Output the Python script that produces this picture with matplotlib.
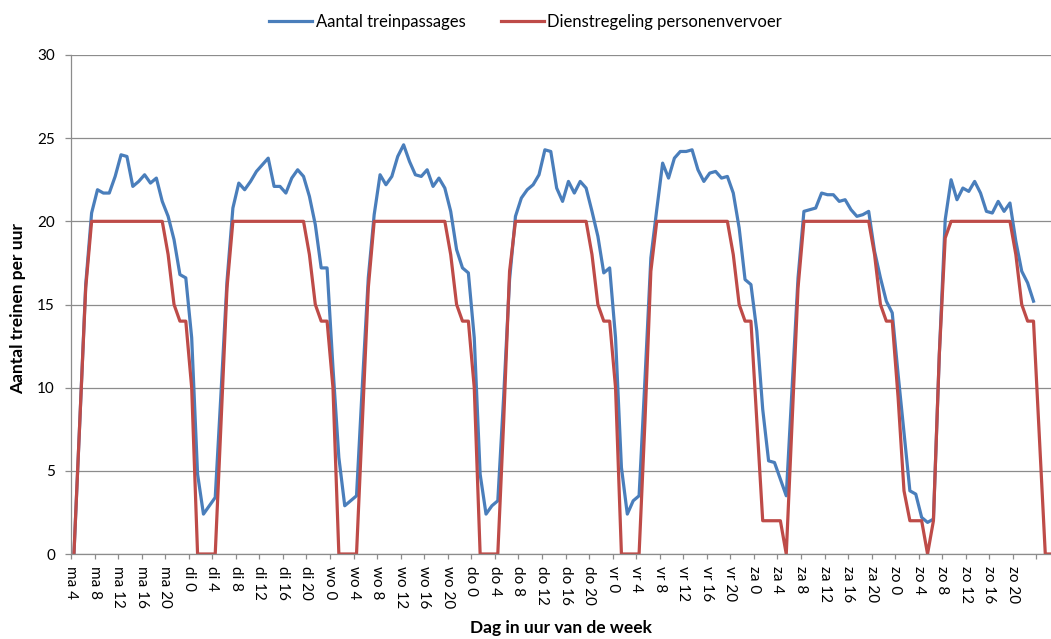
import numpy as np
import matplotlib
matplotlib.use("Agg")
import matplotlib.pyplot as plt

plt.rcParams['font.family'] = ['Lato', 'DejaVu Sans']

# uur van de week, vanaf maandag 4:00 (168 uur)
days = ['ma', 'di', 'wo', 'do', 'vr', 'za', 'zo']

# aantal treinpassages per uur (gemeten)
passages = [
    0, 8, 16.2, 20.5, 21.9, 21.7, 21.7, 22.7, 24.0, 23.9, 22.1, 22.4,
    22.8, 22.3, 22.6, 21.2, 20.3, 18.9, 16.8, 16.6, 13.0, 4.8, 2.4, 2.9,
    3.4, 9.8, 16.4, 20.8, 22.3, 21.9, 22.4, 23.0, 23.4, 23.8, 22.1, 22.1,
    21.7, 22.6, 23.1, 22.7, 21.5, 19.8, 17.2, 17.2, 11.2, 5.8, 2.9, 3.2,
    3.5, 10.2, 16.6, 20.4, 22.8, 22.2, 22.7, 23.9, 24.6, 23.6, 22.8, 22.7,
    23.1, 22.1, 22.6, 22.0, 20.6, 18.3, 17.2, 16.9, 13.0, 4.8, 2.4, 2.9,
    3.2, 9.5, 16.5, 20.3, 21.4, 21.9, 22.2, 22.8, 24.3, 24.2, 22.0, 21.2,
    22.4, 21.7, 22.4, 22.0, 20.6, 19.1, 16.9, 17.2, 13.0, 5.2, 2.4, 3.2,
    3.5, 10.5, 17.8, 20.7, 23.5, 22.6, 23.8, 24.2, 24.2, 24.3, 23.1, 22.4,
    22.9, 23.0, 22.6, 22.7, 21.7, 19.6, 16.5, 16.2, 13.4, 8.7, 5.6, 5.5,
    4.5, 3.5, 10.0, 16.6, 20.6, 20.7, 20.8, 21.7, 21.6, 21.6, 21.2, 21.3,
    20.7, 20.3, 20.4, 20.6, 18.2, 16.6, 15.2, 14.5, 10.8, 7.3, 3.8, 3.6,
    2.2, 1.9, 2.1, 12.0, 20.1, 22.5, 21.3, 22.0, 21.8, 22.4, 21.7, 20.6,
    20.5, 21.2, 20.6, 21.1, 18.8, 17.0, 16.3, 15.2,
]

# dienstregeling personenvervoer (treinen per uur)
dienstregeling = [
    0, 8, 16, 20, 20, 20, 20, 20, 20, 20, 20, 20,
    20, 20, 20, 20, 18, 15, 14, 14, 10, 0, 0, 0,
    0, 8, 16, 20, 20, 20, 20, 20, 20, 20, 20, 20,
    20, 20, 20, 20, 18, 15, 14, 14, 10, 0, 0, 0,
    0, 8, 16, 20, 20, 20, 20, 20, 20, 20, 20, 20,
    20, 20, 20, 20, 18, 15, 14, 14, 10, 0, 0, 0,
    0, 8, 17, 20, 20, 20, 20, 20, 20, 20, 20, 20,
    20, 20, 20, 20, 18, 15, 14, 14, 10, 0, 0, 0,
    0, 8, 17, 20, 20, 20, 20, 20, 20, 20, 20, 20,
    20, 20, 20, 20, 18, 15, 14, 14, 8, 2, 2, 2,
    2, 0, 8, 16, 20, 20, 20, 20, 20, 20, 20, 20,
    20, 20, 20, 20, 18, 15, 14, 14, 9.4, 3.8, 2, 2,
    2, 0, 2, 12, 19, 20, 20, 20, 20, 20, 20, 20,
    20, 20, 20, 20, 18, 15, 14, 14, 7, 0, 0, 0,
]

tick_pos = list(range(0, 168, 4))
tick_labels = ['%s %d' % (days[((4 + b) // 24) % 7], (4 + b) % 24) for b in tick_pos]
tick_labels[-1] = ''

blue = '#4A7EBB'
red = '#BE4B48'
grid = '#8C8C8C'

W, H = 1051, 639
fig = plt.figure(figsize=(W / 100, H / 100), dpi=100)
# plot loopt rechts iets buiten het beeld, zoals in het origineel
ax = fig.add_axes([71 / W, 1 - 554 / H, 989 / W, (554 - 55) / H])

x = np.arange(168)
ax.plot(x[:len(passages)], passages, color=blue, lw=2.3, label='Aantal treinpassages',
        solid_joinstyle='round')
ax.plot(x, dienstregeling, color=red, lw=2.3, label='Dienstregeling personenvervoer',
        solid_joinstyle='round')

ax.set_xlim(-0.5, 167.5)
ax.set_ylim(0, 30)
ax.set_yticks(range(0, 31, 5))
ax.yaxis.grid(True, color=grid, lw=0.9)
ax.set_axisbelow(True)

ax.set_xticks(np.array(tick_pos) - 0.5)
ax.set_xticklabels(tick_labels, rotation=-90, va='top', ha='center')

for s in ['top', 'right']:
    ax.spines[s].set_visible(False)
for s in ['left', 'bottom']:
    ax.spines[s].set_color(grid)
    ax.spines[s].set_linewidth(0.9)

ax.tick_params(axis='x', length=3.8, width=0.9, color=grid, labelsize=11, pad=5)
ax.tick_params(axis='y', length=4.5, width=0.9, color=grid, labelsize=11, pad=7)

fig.text(561 / W, 1 - 628 / H, 'Dag in uur van de week', ha='center', va='center',
         fontsize=12.5, weight='bold')
fig.text(18 / W, 1 - 308 / H, 'Aantal treinen per uur', ha='center', va='center',
         rotation=90, fontsize=12.5, weight='bold')

fig.legend(loc='center', bbox_to_anchor=(0.5, 1 - 22 / H), ncol=2, frameon=False,
           fontsize=12, handlelength=2.6, handletextpad=0.2, columnspacing=2.1)

fig.savefig('out.png', dpi=100)
